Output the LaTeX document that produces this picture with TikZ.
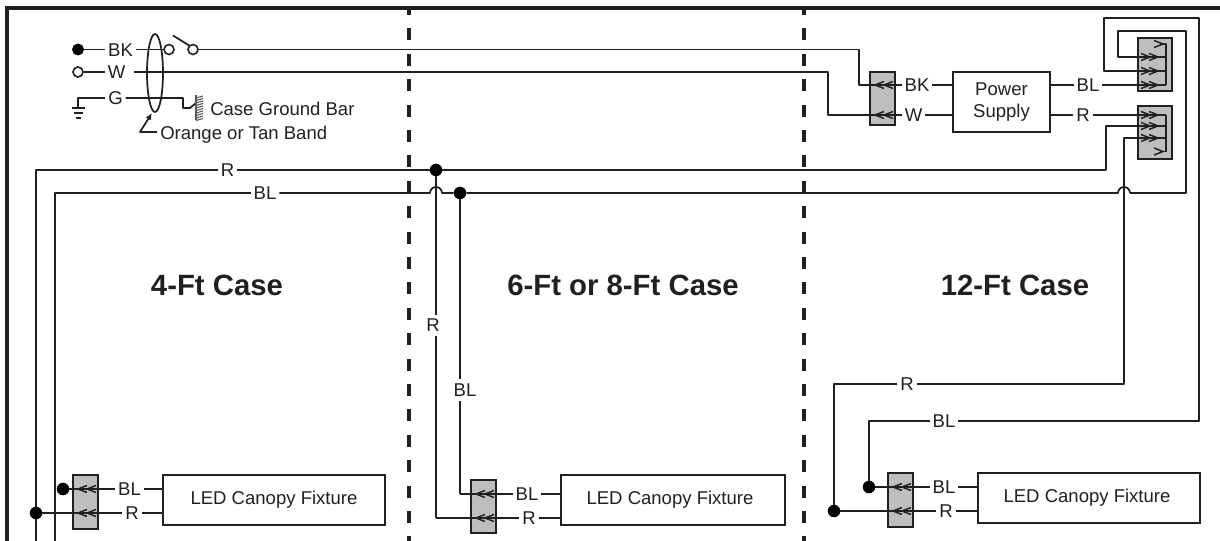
\documentclass[tikz,border=0pt]{standalone}
\usepackage{fontspec}
\setmainfont{Liberation Sans}
\usetikzlibrary{arrows.meta,shapes.geometric}
\definecolor{ink}{HTML}{231F20}
\definecolor{conn}{HTML}{BCBEC0}
\tikzset{
  x=0.75pt,y=-0.75pt,
  wire/.style={draw=ink,line width=1.3pt,line join=round},
  lbl/.style={font=\fontsize{13.9}{16}\selectfont,text=ink,inner sep=2pt,text height=10pt,text depth=0pt,anchor=center},
  note/.style={font=\fontsize{13.9}{16}\selectfont,text=ink,inner sep=0pt,anchor=west},
  title/.style={font=\bfseries\fontsize{22}{26}\selectfont,text=ink,inner sep=0pt},
  box/.style={draw=ink,line width=1.5pt,fill=white,inner sep=0pt,align=center,font=\fontsize{13.9}{17}\selectfont,text=ink},
  connbox/.style={draw=ink,line width=1.5pt,fill=conn,inner sep=0pt},
  dot/.style={circle,fill=black,draw=black,inner sep=0pt,minimum size=9pt},
  opendot/.style={circle,fill=white,draw=ink,line width=1.2pt,inner sep=0pt,minimum size=7.5pt},
  sep/.style={draw=ink,line width=3pt,dash pattern=on 9pt off 10.05pt,dash phase=3.75pt},
  frame/.style={draw=ink,line width=3.2pt},
  chev/.style={draw=ink,line width=1.1pt,line join=miter},
}
\newcommand{\chL}[2]{\draw[chev] (#1+9,#2-3.5) -- (#1,#2) -- (#1+9,#2+3.5);}
\newcommand{\chR}[2]{\draw[chev] (#1-9,#2-3.5) -- (#1,#2) -- (#1-9,#2+3.5);}
\newcommand{\dblL}[2]{\chL{#1}{#2}\chL{#1+9}{#2}}
\newcommand{\dblR}[2]{\chR{#1}{#2}\chR{#1+8}{#2}}
\begin{document}
\begin{tikzpicture}
\useasboundingbox (0,0) rectangle (1220,541);
\fill[white] (0,0) rectangle (1220,541);
% frame and separators
\coordinate (fBL) at (7,541); \coordinate (fTL) at (7,8); \coordinate (fTR) at (1220,8);
\draw[frame] (fBL) -- (fTL) -- (fTR);
\coordinate (s1a) at (409,8); \coordinate (s1b) at (409,541);
\coordinate (s2a) at (804,8); \coordinate (s2b) at (804,541);
\draw[sep] (s1a) -- (s1b);
\draw[sep] (s2a) -- (s2b);
% titles
\node[title] (t1) at (217,285) {4-Ft Case};
\node[title] (t2) at (623,285) {6-Ft or 8-Ft Case};
\node[title] (t3) at (1015,285) {12-Ft Case};
% boxes
\node[connbox,minimum width=18.75pt,minimum height=39.75pt] (cPS) at (882.5,98.5) {};
\node[box,minimum width=72.75pt,minimum height=45pt] (PS) at (1001.5,102) {Power\\Supply};
\node[connbox,minimum width=25.5pt,minimum height=39.75pt] (cU) at (1155,64.5) {};
\node[connbox,minimum width=25.5pt,minimum height=39.75pt] (cD) at (1155,132.5) {};
\node[connbox,minimum width=18.75pt,minimum height=40.5pt] (c4) at (85.5,502) {};
\node[connbox,minimum width=18.75pt,minimum height=39.75pt] (c6) at (483.5,506.5) {};
\node[connbox,minimum width=18.75pt,minimum height=40.5pt] (c12) at (900,500) {};
\node[box,minimum width=166.5pt,minimum height=37.5pt] (L4) at (274,500) {LED Canopy Fixture};
\node[box,minimum width=168pt,minimum height=37.5pt] (L6) at (673,500) {LED Canopy Fixture\hspace*{4.5pt}};
\node[box,minimum width=166.5pt,minimum height=37.5pt] (L12) at (1089,498) {LED Canopy Fixture\hspace*{3pt}};
% terminals
\node[dot,minimum size=8.5pt] (dBK) at (78,49.5) {};
\node[opendot] (oW) at (78,72) {};
\node[opendot] (sw1) at (169,49.5) {};
\node[opendot] (sw2) at (193,49.5) {};
\coordinate (swa) at (173,35.5); \coordinate (swb) at (190,46);
\draw[wire] (swa) -- (swb);
% labels top-left
\node[lbl] (lBK) at (120.5,49.5) {BK};
\node[lbl] (lW) at (116.5,72) {W};
\node[lbl] (lG) at (115.5,98) {G};
\draw[wire] (dBK) -- (lBK);
\draw[wire] (lBK) -- (sw1);
\draw[wire] (oW) -- (lW);
% BK run
\node[lbl] (lBK2) at (917,85) {BK};
\coordinate (k1) at (859,49.5); \coordinate (k2) at (859,85);
\draw[wire] (sw2) -- (k1) -- (k2) -- (lBK2);
\draw[wire] (lBK2) -- (PS.west |- lBK2);
% W run
\node[lbl] (lW2) at (913.5,115) {W};
\coordinate (w0) at (134,72); \coordinate (w1) at (828,72); \coordinate (w2) at (828,115);
\draw[wire] (w0) -- (w1) -- (w2) -- (lW2);
\draw[wire] (lW2) -- (PS.west |- lW2);
% ground
\coordinate (g0) at (78,108); \coordinate (g1) at (78,98);
\coordinate (g2) at (183,98); \coordinate (g3) at (183,108); \coordinate (g4) at (190,108); \coordinate (g5) at (196,103);
\draw[wire] (g0) -- (g1) -- (lG);
\draw[wire] (lG) -- (g2) -- (g3) -- (g4) -- (g5);
\coordinate (ga1) at (72,108); \coordinate (ga2) at (85,108);
\coordinate (gb1) at (74,113); \coordinate (gb2) at (83,113);
\coordinate (gc1) at (76,118); \coordinate (gc2) at (81,118);
\draw[wire] (ga1) -- (ga2); \draw[wire] (gb1) -- (gb2); \draw[wire] (gc1) -- (gc2);
\draw[draw=ink!75,line width=0.8pt] (196,95) -- (196,120);
\foreach \yy in {96,98.5,...,119}{\draw[draw=ink!75,line width=0.8pt] (196,\yy+2) -- (203,\yy);}
% band
\node[draw=ink,line width=1.3pt,ellipse,minimum width=12pt,minimum height=58.5pt,inner sep=0pt] (band) at (155,73) {};
\coordinate (ar0) at (157,132); \coordinate (ar1) at (140,132); \coordinate (ar2) at (152,113);
\draw[wire,-{Latex[length=5.2pt,width=4.5pt]}] (ar0) -- (ar1) -- (ar2);
\node[note] (nOr) at (160,134.5) {Orange or Tan Band};
\node[note] (nCase) at (210,109) {Case Ground Bar};
% PS outputs
\node[lbl] (lBLo) at (1088,85) {BL};
\node[lbl] (lRo) at (1083,115) {R};
\draw[wire] (PS.east |- lBLo) -- (lBLo);
\draw[wire] (PS.east |- lRo) -- (lRo);
\coordinate (uBus) at (1166,85); \coordinate (dBus) at (1166,115);
\draw[wire] (lBLo) -- (uBus);
\draw[wire] (lRo) -- (dBus);
% connector buses
\coordinate (uTop) at (1166,44); \coordinate (uEnd) at (1160,44);
\coordinate (dBot) at (1166,151.5); \coordinate (dEnd) at (1160,151.5);
\draw[wire] (uEnd) -- (uTop) -- (uBus);
\draw[wire] (dBus) -- (dBot) -- (dEnd);
% R main
\node[lbl] (lR) at (227.5,170) {R};
\node[dot] (dR) at (436,170) {};
\coordinate (r0) at (36,541); \coordinate (r1) at (36,170);
\coordinate (r2) at (1106,170); \coordinate (r3) at (1106,126); \coordinate (r4) at (1166,126);
\draw[wire] (r0) -- (r1) -- (lR);
\draw[wire] (lR) -- (dR) -- (r2) -- (r3) -- (r4);
% BL main
\node[lbl] (lBL) at (265,193) {BL};
\node[dot] (dBL) at (460,193) {};
\coordinate (b0) at (55,541); \coordinate (b1) at (55,193);
\coordinate (h1a) at (430,193); \coordinate (h1b) at (442,193);
\coordinate (h2a) at (1118,193); \coordinate (h2b) at (1130,193);
\draw[wire] (b0) -- (b1) -- (lBL);
\draw[wire] (lBL) -- (h1a) arc[start angle=180,end angle=360,radius=6] -- (dBL) -- (h2a) arc[start angle=180,end angle=360,radius=6];
% loop 1 (57)
\coordinate (p1) at (1166,57); \coordinate (p2) at (1118,57); \coordinate (p3) at (1118,31);
\coordinate (p4) at (1186,31); \coordinate (p5) at (1186,193);
\draw[wire] (h2b) -- (p5) -- (p4) -- (p3) -- (p2) -- (p1);
% loop 2 (71)
\node[lbl] (lBL12) at (944,421) {BL};
\node[dot] (d12B) at (869,487) {};
\coordinate (q1) at (1166,71); \coordinate (q2) at (1104,71); \coordinate (q3) at (1104,18);
\coordinate (q4) at (1199,18); \coordinate (q5) at (1199,421); \coordinate (q6) at (869,421);
\draw[wire] (q1) -- (q2) -- (q3) -- (q4) -- (q5) -- (lBL12);
\draw[wire] (lBL12) -- (q6) -- (d12B);
% 138 line to 12 ft
\node[lbl] (lR12) at (907,384) {R};
\node[dot] (d12R) at (834,511) {};
\coordinate (m1) at (1166,138); \coordinate (m2) at (1124,138); \coordinate (m3) at (1124,384); \coordinate (m4) at (834,384);
\draw[wire] (m1) -- (m2) -- (m3) -- (lR12);
\draw[wire] (lR12) -- (m4) -- (d12R);
% 6 ft risers
\node[lbl] (lR6) at (433,325) {R};
\node[lbl] (lB6) at (465,390) {BL};
\coordinate (r6a) at (436,518); 
\coordinate (lR6a) at (436,315); \coordinate (lR6b) at (436,336);
\coordinate (lB6a) at (460,379); \coordinate (lB6b) at (460,401);
\coordinate (b6a) at (460,494);
\draw[wire] (dR) -- (lR6a); \draw[wire] (lR6b) -- (r6a);
\draw[wire] (dBL) -- (lB6a); \draw[wire] (lB6b) -- (b6a);
% 4 ft
\node[lbl] (lB4) at (129.5,489) {BL};
\node[lbl] (lR4) at (132,513) {R};
\node[dot] (d4B) at (63,489) {};
\node[dot] (d4R) at (36,513) {};
\draw[wire] (d4B) -- (lB4); \draw[wire] (lB4) -- (L4.west |- lB4);
\draw[wire] (d4R) -- (lR4); \draw[wire] (lR4) -- (L4.west |- lR4);
% 6 ft
\node[lbl] (lB6r) at (527,494) {BL};
\node[lbl] (lR6r) at (529,518) {R};
\draw[wire] (b6a) -- (lB6r); \draw[wire] (lB6r) -- (L6.west |- lB6r);
\draw[wire] (r6a) -- (lR6r); \draw[wire] (lR6r) -- (L6.west |- lR6r);
% 12 ft
\node[lbl] (lB12r) at (944,487) {BL};
\node[lbl] (lR12r) at (946,511) {R};
\draw[wire] (d12B) -- (lB12r); \draw[wire] (lB12r) -- (L12.west |- lB12r);
\draw[wire] (d12R) -- (lR12r); \draw[wire] (lR12r) -- (L12.west |- lR12r);
% chevrons
\dblL{875}{85}\dblL{875}{115}
\dblL{78}{489}\dblL{78}{513}
\dblL{476}{494}\dblL{476}{518}
\dblL{893}{487}\dblL{893}{511}
\dblR{1150}{57}\dblR{1150}{71}\dblR{1150}{85}
\dblR{1150}{115}\dblR{1150}{126}\dblR{1150}{138}
\chR{1163}{44}
\chR{1163}{151.5}
\end{tikzpicture}
\end{document}
